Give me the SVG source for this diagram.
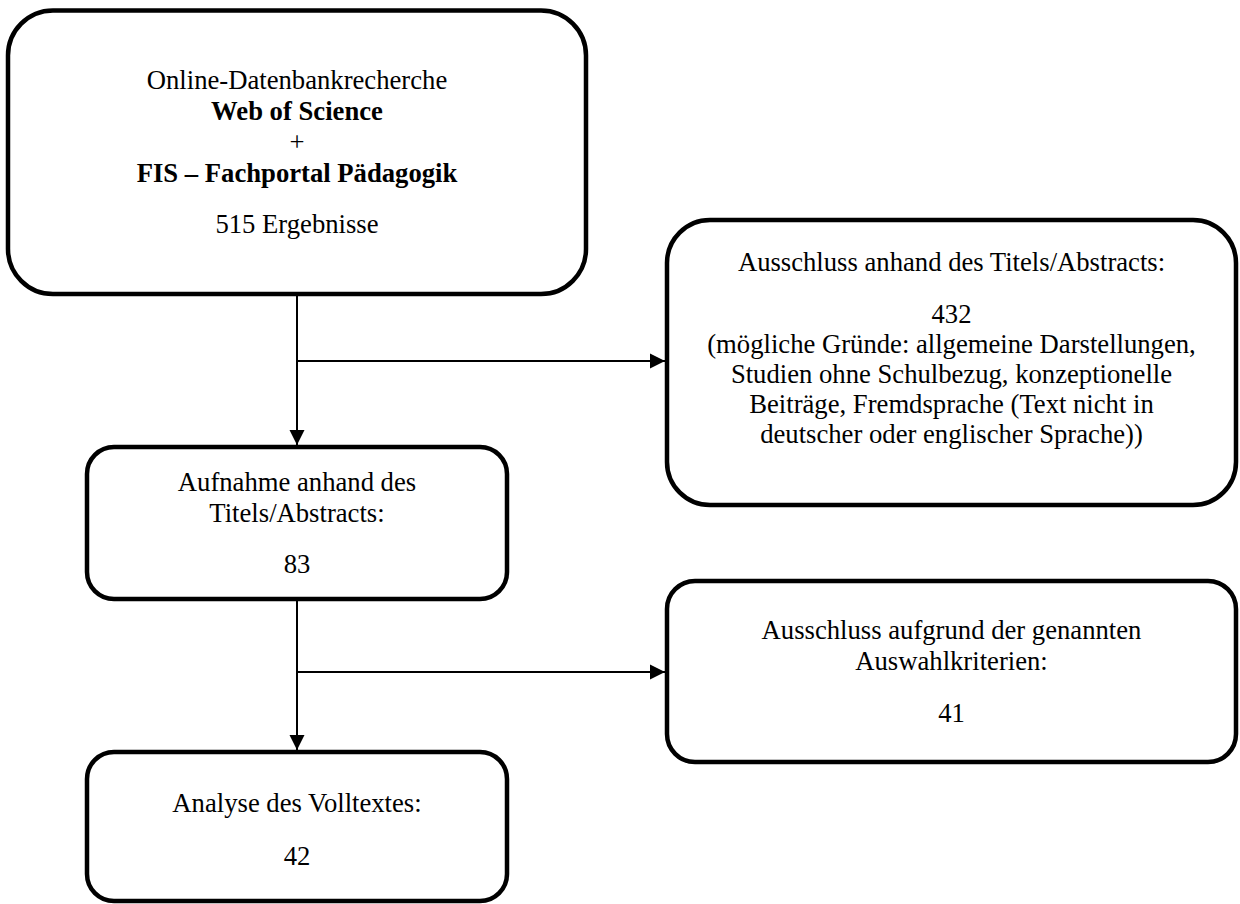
<svg xmlns="http://www.w3.org/2000/svg" width="1240" height="904" viewBox="0 0 1240 904">
<style>
.box{fill:#fff;stroke:#000;stroke-width:4.5}
.t{font-family:"Liberation Serif","Times New Roman",serif;font-size:26.67px;fill:#000;text-anchor:middle}
.b{font-weight:bold}
.c{fill:none;stroke:#000;stroke-width:2}
</style>
<defs>
<marker id="ah" markerUnits="userSpaceOnUse" markerWidth="16" markerHeight="16" viewBox="0 0 16 16" refX="15" refY="8" orient="auto">
<path d="M0,0.5 L15,8 L0,15.5 Z" fill="#000"/>
</marker>
</defs>
<rect width="1240" height="904" fill="#fff"/>
<g id="connectors">
<line class="c" x1="297" y1="294" x2="297" y2="445" marker-end="url(#ah)"/>
<line class="c" x1="297" y1="361" x2="665" y2="361" marker-end="url(#ah)"/>
<line class="c" x1="297" y1="599" x2="297" y2="750" marker-end="url(#ah)"/>
<line class="c" x1="297" y1="672" x2="665" y2="672" marker-end="url(#ah)"/>
</g>
<g id="n1">
<rect class="box" x="8" y="10.5" width="578" height="283.5" rx="45" ry="45"/>
<text class="t" x="297" y="89">Online-Datenbankrecherche</text>
<text class="t b" x="297" y="120">Web of Science</text>
<text class="t" x="297" y="151">+</text>
<text class="t b" x="297" y="182">FIS – Fachportal Pädagogik</text>
<text class="t" x="297" y="233">515 Ergebnisse</text>
</g>
<g id="n2">
<rect class="box" x="667" y="220" width="569" height="285" rx="43" ry="43"/>
<text class="t" x="951.5" y="271">Ausschluss anhand des Titels/Abstracts:</text>
<text class="t" x="951.5" y="323">432</text>
<text class="t" x="951.5" y="353">(mögliche Gründe: allgemeine Darstellungen,</text>
<text class="t" x="951.5" y="383">Studien ohne Schulbezug, konzeptionelle</text>
<text class="t" x="951.5" y="413">Beiträge, Fremdsprache (Text nicht in</text>
<text class="t" x="951.5" y="443">deutscher oder englischer Sprache))</text>
</g>
<g id="n3">
<rect class="box" x="87" y="447" width="420" height="152" rx="27" ry="27"/>
<text class="t" x="297" y="491">Aufnahme anhand des</text>
<text class="t" x="297" y="522">Titels/Abstracts:</text>
<text class="t" x="297" y="573">83</text>
</g>
<g id="n4">
<rect class="box" x="667" y="581" width="569" height="181" rx="28" ry="28"/>
<text class="t" x="951.5" y="639">Ausschluss aufgrund der genannten</text>
<text class="t" x="951.5" y="670">Auswahlkriterien:</text>
<text class="t" x="951.5" y="722">41</text>
</g>
<g id="n5">
<rect class="box" x="87" y="752" width="420" height="149" rx="27" ry="27"/>
<text class="t" x="297" y="812">Analyse des Volltextes:</text>
<text class="t" x="297" y="865">42</text>
</g>
</svg>
